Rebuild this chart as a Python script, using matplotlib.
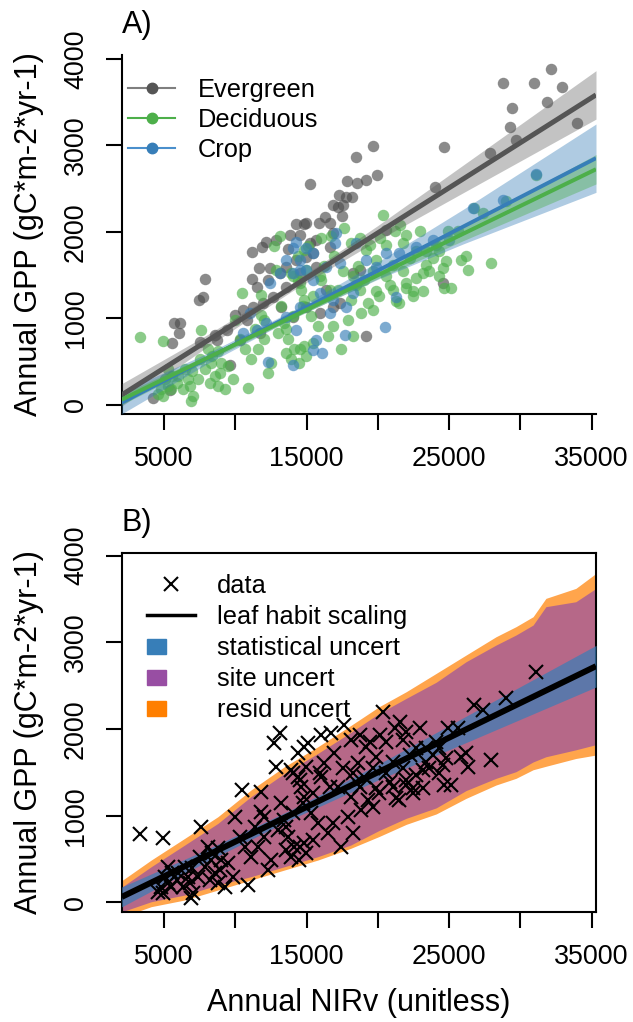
import numpy as np
import matplotlib
matplotlib.use('Agg')
import matplotlib.pyplot as plt
from matplotlib.lines import Line2D
from matplotlib.patches import Rectangle
from matplotlib.legend_handler import HandlerPatch
from matplotlib.transforms import blended_transform_factory

plt.rcParams['font.family'] = ['Liberation Sans', 'DejaVu Sans']

# ---------------- data ----------------
evg_x = [32140, 28760, 30980, 32960, 31910, 29390, 29270, 29690, 34010, 27870,
         24680, 24050, 19700, 18490, 19940, 15270, 17840, 18540, 19140, 17280,
         17790, 18210, 16860, 17210, 17560, 17510, 16300, 15880, 16620, 14240,
         14800, 14990, 13820, 14520, 12890, 13710, 15220, 15460, 16620, 12190,
         11890, 11140, 11670, 12420, 12310, 11140, 11490, 13120, 13590, 14290,
         14990, 14520, 15690, 13590, 12660, 13240, 11960, 11260, 10550, 9970,
         10790, 9390, 8570, 8690, 7520, 7890, 7750, 7430, 6120, 5700,
         6050, 5540, 4250, 5420, 9620, 15920, 16860, 17320, 19190, 18260,
         18720, 24560, 16390, 14990, 14060, 11720, 10320, 20590, 15690, 16860]
evg_y = [3884, 3726, 3726, 3680, 3506, 3437, 3209, 3063, 3256, 2909,
         2978, 2524, 2994, 2863, 2659, 2551, 2589, 2562, 2601, 2423,
         2408, 2408, 2312, 2292, 2312, 2188, 2177, 2108, 2108, 2088,
         2088, 2100, 1965, 1965, 1907, 1799, 1869, 1753, 1830, 1888,
         1830, 1769, 1588, 1588, 1445, 1452, 1368, 1522, 1599, 1676,
         1715, 1522, 1599, 1368, 1252, 1137, 1175, 1137, 1098, 1040,
         983, 867, 809, 751, 732, 1452, 1252, 1214, 944, 944,
         836, 720, 85, 173, 462, 1059, 1137, 1175, 798, 1522,
         1560, 1406, 1329, 1137, 1021, 828, 751, 2023, 1907, 1984]

dec_x = [3300, 4930, 5280, 5050, 4810, 4580, 5510, 5980, 6450, 6680,
         6910, 6330, 7610, 8080, 7850, 8320, 8550, 8780, 9250, 9010,
         9480, 7380, 9950, 10460, 10300, 10650, 10880, 11120, 11350, 11820,
         11820, 12050, 12280, 12520, 11580, 12750, 13170, 12870, 13220, 13450,
         13680, 13920, 14150, 14380, 14850, 15080, 13920, 14380, 14620, 14850,
         15320, 15780, 16020, 16250, 16020, 16720, 17650, 16950, 17180, 17420,
         16480, 18120, 18580, 19050, 18120, 17880, 18820, 19290, 14850, 14500,
         12980, 12050,
         31100, 29000, 26780, 27360, 27950, 26190, 25840, 26310, 24680, 25140,
         24790, 24560, 23860, 25610, 24910, 24090, 23390, 23630, 22690, 23160,
         22230, 22930, 21990, 21530, 21180, 20360, 20590, 20130, 18730, 19430,
         19660, 18490, 17560, 21060, 21760, 22460, 20830, 19890, 21290, 21990,
         24330, 22690, 23390,
         18260, 16860, 15460, 14520, 13590, 14990, 19660, 20120, 21060, 21520,
         21990, 22460, 23160, 24330, 20590, 19890, 19190, 21760, 15920, 16620,
         15460, 14760, 14060, 13590, 14520, 14990, 14060, 18260, 18720,
         4950, 5300, 5540, 5890, 6940, 8340, 8920, 9850, 7520, 8800,
         6820, 8220, 7050]
dec_y = [784, 738, 411, 296, 181, 123, 181, 334, 411, 296,
         46, 181, 865, 642, 411, 488, 334, 219, 181, 488,
         450, 296, 988, 1296, 758, 642, 200, 527, 873, 1046,
         1277, 988, 373, 488, 642, 1835, 1958, 1565, 1142, 950,
         758, 527, 642, 1719, 1796, 1835, 1527, 1450, 1334, 1219,
         1027, 911, 1450, 1604, 1931, 1950, 2046, 1719, 1334, 642,
         796, 1873, 1604, 1450, 1219, 988, 1065, 1181, 681, 488,
         834, 758,
         2662, 2354, 2277, 2219, 1642, 1719, 1681, 1565, 1354, 1354,
         1661, 1584, 1700, 2008, 2008, 1854, 1777, 1546, 1469, 1315,
         1700, 2008, 1969, 2085, 2008, 2200, 1854, 1931, 1931, 1854,
         1546, 1392, 1546, 1623, 1546, 1315, 1392, 1315, 1200, 1354,
         1777, 1777, 1623,
         796, 911, 719, 642, 603, 565, 1104, 1258, 1334, 1181,
         1411, 1258, 1527, 1488, 1488, 1681, 1796, 1873, 1488, 1334,
         1258, 1142, 1027, 873, 1411, 1565, 1488, 1488, 1334,
         103, 219, 334, 257, 392, 565, 373, 296, 527, 623,
         219, 257, 103]

crop_x = [20480, 17790, 16620, 15460, 16110, 14060, 12310, 21290, 31090, 26710,
          28760, 17090, 16970, 14290, 14060, 14990, 15460, 14520, 14990, 13590,
          13120, 12420, 14060, 14520, 15460, 16390, 17320, 18490, 19190, 19890,
          20590, 21520, 18260, 15920, 16860, 14520, 13590, 12190, 11490, 10550,
          11020, 14290, 15690, 17670, 23860, 25030, 22690]
crop_y = [905, 1137, 1059, 636, 597, 462, 501, 1252, 2666, 2273,
          2370, 1984, 1869, 1888, 1811, 1811, 1753, 1676, 1560, 1676,
          1522, 1406, 1522, 1560, 1445, 1599, 1637, 1869, 1676, 1599,
          1753, 1753, 1291, 1291, 1214, 1137, 1021, 944, 867, 828,
          1059, 867, 751, 809, 1907, 1907, 1830]

# fitted lines: (intercept, slope)
evg_fit = (-95.0, 0.1042)
dec_fit = (-100.0, 0.0800)
crop_fit = (-145.0, 0.0849)

# confidence half-widths at band_x
band_x = [2030, 8000, 14000, 20000, 26000, 35315]
evg_ci = [130, 70, 45, 85, 160, 280]
dec_ci = [60, 35, 25, 40, 80, 170]
crop_ci = [130, 60, 45, 100, 200, 395]
stat_ci = [115, 70, 55, 90, 150, 240]

# uncertainty envelopes (panel B)
unc_x = [2030, 4100, 6450, 8780, 11100, 13450, 15800, 18100, 20100, 22000,
         24100, 26200, 28300, 29700, 30900, 31800, 33900, 35315]
resid_hi = [250, 488, 738, 988, 1296, 1565, 1796, 2040, 2258, 2431,
            2642, 2854, 3065, 3181, 3296, 3508, 3623, 3796]
site_hi = [175, 411, 661, 911, 1219, 1488, 1719, 1960, 2181, 2354,
           2540, 2777, 2969, 3085, 3200, 3412, 3469, 3623]
site_lo = [-110, 7, 84, 200, 296, 411, 527, 661, 830, 970,
           1090, 1290, 1431, 1508, 1620, 1680, 1760, 1820]
resid_lo = [-170, -50, 27, 142, 257, 373, 488, 623, 760, 900,
            1020, 1200, 1354, 1431, 1530, 1570, 1660, 1700]

xticks = [5000, 10000, 15000, 20000, 25000, 30000, 35000]
xticklabels = ['5000', '', '15000', '', '25000', '', '35000']
yticks = [0, 1000, 2000, 3000, 4000]
yticklabels = ['0', '1000', '2000', '3000', '4000']

# ---------------- layout ----------------
W, H = 633, 1022
fig = plt.figure(figsize=(W / 100, H / 100), dpi=100)

L, R = 121.7, 596.0
axA = fig.add_axes([L / W, 1 - 414 / H, (R - L) / W, (414 - 55) / H])
axB = fig.add_axes([L / W, 1 - 911.7 / H, (R - L) / W, (911.7 - 552.7) / H])

XLIM = (2030, 35315)

GRAY, GREEN, BLUE = '#4D4D4D', '#4DAF4A', '#377EB8'
PURPLE, ORANGE = '#984EA3', '#FF7F00'


def line_vals(fit, x):
    x = np.asarray(x, dtype=float)
    return fit[0] + fit[1] * x


def style_axes(ax, box):
    ax.set_xlim(*XLIM)
    ax.set_xticks(xticks)
    ax.set_xticklabels(xticklabels)
    ax.set_yticks(yticks)
    ax.set_yticklabels([])
    for s in ax.spines.values():
        s.set_linewidth(1.5)
    if not box:
        ax.spines['top'].set_visible(False)
        ax.spines['right'].set_visible(False)
    ax.tick_params(axis='both', direction='out', length=11.3, width=1.5,
                   labelsize=19.4, colors='black')
    ax.tick_params(axis='x', pad=12)
    # vertical y tick labels, centred on their ticks (R style)
    tr = blended_transform_factory(fig.transFigure, ax.transData)
    for v, lab in zip(yticks, yticklabels):
        ax.text(76.0 / W, v, lab, transform=tr, rotation=90, ha='center',
                va='center', fontsize=19.4, clip_on=False)


# ---------------- panel A ----------------
axA.scatter(evg_x, evg_y, s=68, c=GRAY, alpha=0.65, lw=0, zorder=2)
axA.scatter(dec_x, dec_y, s=68, c=GREEN, alpha=0.65, lw=0, zorder=2)
axA.scatter(crop_x, crop_y, s=68, c=BLUE, alpha=0.65, lw=0, zorder=2)

bx = np.array(band_x, dtype=float)
for fit, ci, col, al in [(evg_fit, evg_ci, '#555555', 0.35),
                         (crop_fit, crop_ci, BLUE, 0.4),
                         (dec_fit, dec_ci, GREEN, 0.4)]:
    c = line_vals(fit, bx)
    axA.fill_between(bx, c - np.array(ci), c + np.array(ci), color=col,
                     alpha=al, lw=0, zorder=3)

lx = np.array(XLIM, dtype=float)
axA.plot(lx, line_vals(evg_fit, lx), color='#555555', lw=3.6, zorder=4,
         solid_capstyle='butt')
axA.plot(lx, line_vals(crop_fit, lx), color=BLUE, lw=2.8, zorder=4,
         solid_capstyle='butt')
axA.plot(lx, line_vals(dec_fit, lx), color=GREEN, lw=2.9, zorder=4,
         solid_capstyle='butt')

axA.set_ylim(-104, 4046)
style_axes(axA, box=False)

hA = [Line2D([], [], color='#7f7f7f', lw=1.5, marker='o', ms=7.5,
             mfc='#555555', mec='#555555'),
      Line2D([], [], color=GREEN, lw=1.5, marker='o', ms=7.5,
             mfc=GREEN, mec=GREEN),
      Line2D([], [], color='#4a8fcc', lw=1.5, marker='o', ms=7.5,
             mfc=BLUE, mec=BLUE)]
axA.legend(hA, ['Evergreen', 'Deciduous', 'Crop'], loc='upper left',
           bbox_to_anchor=(0.0133, 0.936), frameon=False, fontsize=18.3,
           handlelength=1.85, handletextpad=0.9, labelspacing=0.24,
           borderpad=0, borderaxespad=0)

# ---------------- panel B ----------------
ux = np.array(unc_x, dtype=float)
axB.fill_between(ux, resid_lo, resid_hi, color=ORANGE, alpha=0.7, lw=0,
                 zorder=1)
axB.fill_between(ux, site_lo, site_hi, color=PURPLE, alpha=0.7, lw=0,
                 zorder=2)
cb = line_vals(dec_fit, bx)
axB.fill_between(bx, cb - np.array(stat_ci), cb + np.array(stat_ci),
                 color=BLUE, alpha=0.7, lw=0, zorder=3)
axB.plot(dec_x, dec_y, 'x', color='black', ms=10.5, mew=1.5, zorder=4)
axB.plot(lx, line_vals(dec_fit, lx), color='black', lw=4.3, zorder=5,
         solid_capstyle='butt')
axB.set_ylim(-108, 4035)
style_axes(axB, box=True)


def small_box(legend, orig_handle, xdescent, ydescent, width, height,
              fontsize):
    bh = 10.8
    return Rectangle((-xdescent, -ydescent + (height - bh) / 2), 13.7, bh)


hB = [Line2D([], [], ls='none', marker='x', color='black', ms=10.5, mew=1.5),
      Line2D([], [], color='black', lw=2.5),
      Rectangle((0, 0), 1, 1, color=BLUE),
      Rectangle((0, 0), 1, 1, color=PURPLE),
      Rectangle((0, 0), 1, 1, color=ORANGE)]
hm = {h: HandlerPatch(patch_func=small_box) for h in hB[2:]}
axB.legend(hB, ['data', 'leaf habit scaling', 'statistical uncert',
                'site uncert', 'resid uncert'],
           handler_map=hm, loc='upper left', bbox_to_anchor=(0.0527, 0.941),
           frameon=False, fontsize=18.3, handlelength=1.89,
           handletextpad=0.88, labelspacing=0.28, borderpad=0,
           borderaxespad=0)

# ---------------- text ----------------
fig.text(L / W, 1 - 33 / H, 'A)', fontsize=22, ha='left', va='baseline')
fig.text(L / W, 1 - 530.7 / H, 'B)', fontsize=22, ha='left', va='baseline')
ylab = 'Annual GPP (gC*m-2*yr-1)'
fig.text(29.5 / W, 1 - ((55 + 414) / 2) / H, ylab, fontsize=22,
         rotation=90, ha='center', va='center')
fig.text(29.5 / W, 1 - ((552.7 + 911.7) / 2) / H, ylab, fontsize=22,
         rotation=90, ha='center', va='center')
fig.text(((L + R) / 2) / W, 1 - 1002.7 / H, 'Annual NIRv (unitless)',
         fontsize=22, ha='center', va='center')

fig.savefig('out.png', dpi=100)
